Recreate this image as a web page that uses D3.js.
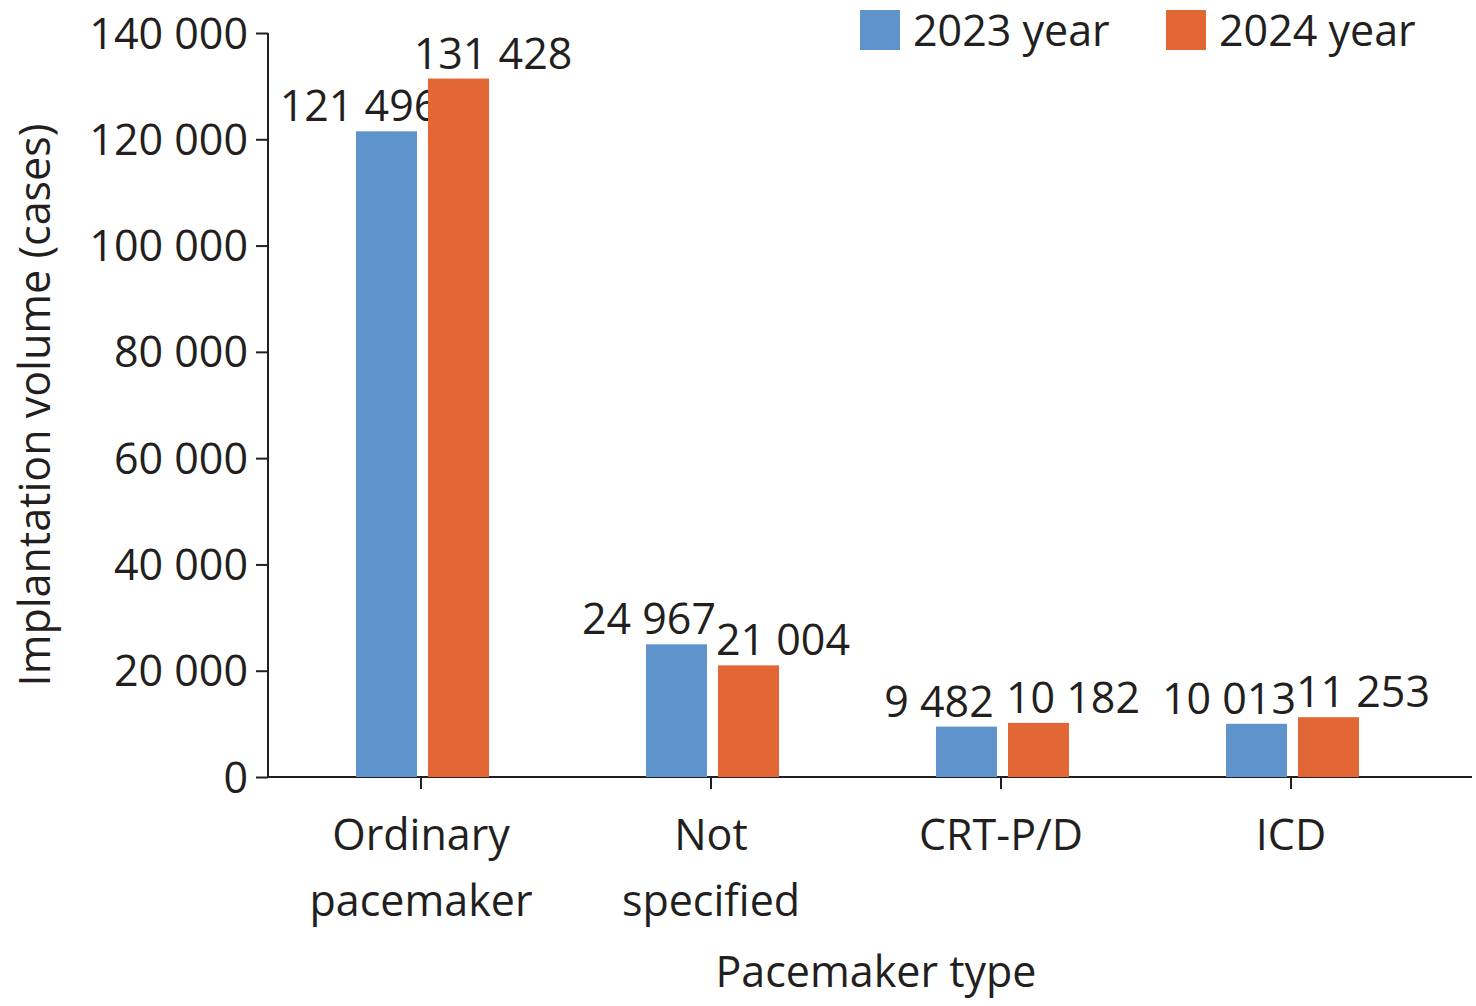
<!DOCTYPE html>
<html><head><meta charset="utf-8">
<script src="https://cdn.jsdelivr.net/npm/d3@7"></script>
<style>body{margin:0;background:#fff}text{font-family:"Open Sans",sans-serif;fill:#231f20}</style>
</head><body><svg id="c" width="1476" height="1006"></svg>
<script>
const categories = [["Ordinary","pacemaker"],["Not","specified"],["CRT-P/D"],["ICD"]];
const years = ["2023 year","2024 year"];
const v2023 = [121496, 24967, 9482, 10013];
const v2024 = [131428, 21004, 10182, 11253];
const yTicks = [0,20000,40000,60000,80000,100000,120000,140000];
const colors = ["#5f93cc","#e36734"];

const svg = d3.select("#c");
const fmt = n => d3.format(",")(n).replace(/,/g," ");
const y = d3.scaleLinear().domain([0,140000]).range([777,33]);
const x = d3.scaleBand().domain(d3.range(4)).range([276,1436]);
const series = [v2023, v2024];
const FS = "43px";

// axes
const ya = svg.append("g").attr("transform","translate(268,0)")
  .call(d3.axisLeft(y).tickValues(yTicks).tickFormat(fmt).tickSize(12).tickSizeOuter(0));
svg.append("g").attr("transform","translate(0,777)")
  .call(d3.axisBottom(x).tickFormat("").tickSize(12).tickSizeOuter(0));
svg.selectAll(".domain").remove();
svg.append("line").attr("x1",268).attr("x2",1472).attr("y1",777).attr("y2",777).attr("stroke","#231f20").attr("stroke-width",2);
svg.append("line").attr("x1",268).attr("x2",268).attr("y1",33).attr("y2",777).attr("stroke","#231f20").attr("stroke-width",2);
svg.selectAll(".tick line").attr("stroke","#231f20").attr("stroke-width",2);
ya.selectAll("text").style("font-size",FS).attr("dy","0.35em").attr("x",-20);

// bars
series.forEach((vals,s)=>{
  const off = s===0 ? -65 : 7;
  svg.selectAll(".b"+s).data(vals).join("rect")
    .attr("x",(d,i)=>x(i)+x.bandwidth()/2+off).attr("width",61)
    .attr("y",d=>y(d)).attr("height",d=>777-y(d)).attr("fill",colors[s]);
  svg.selectAll(".l"+s).data(vals).join("text")
    .attr("x",(d,i)=>x(i)+x.bandwidth()/2+(s===0?-62:72))
    .attr("y",d=>y(d)-10).attr("text-anchor","middle")
    .style("font-size",FS).text(fmt);
});

// category labels
categories.forEach((lines,i)=>{
  lines.forEach((t,j)=>svg.append("text").attr("x",x(i)+x.bandwidth()/2).attr("y",850+j*66)
    .attr("text-anchor","middle").style("font-size",FS).text(t));
});

svg.append("text").attr("x",876).attr("y",987).attr("text-anchor","middle").style("font-size",FS).text("Pacemaker type");
svg.append("text").attr("transform","translate(50,405) rotate(-90)").attr("text-anchor","middle").style("font-size",FS).text("Implantation volume (cases)");

// legend
[860,1166].forEach((lx,s)=>{
  svg.append("rect").attr("x",lx).attr("y",10).attr("width",40).attr("height",40).attr("fill",colors[s]);
  svg.append("text").attr("x",lx+53).attr("y",46).style("font-size",FS).text(years[s]);
});
</script></body></html>
